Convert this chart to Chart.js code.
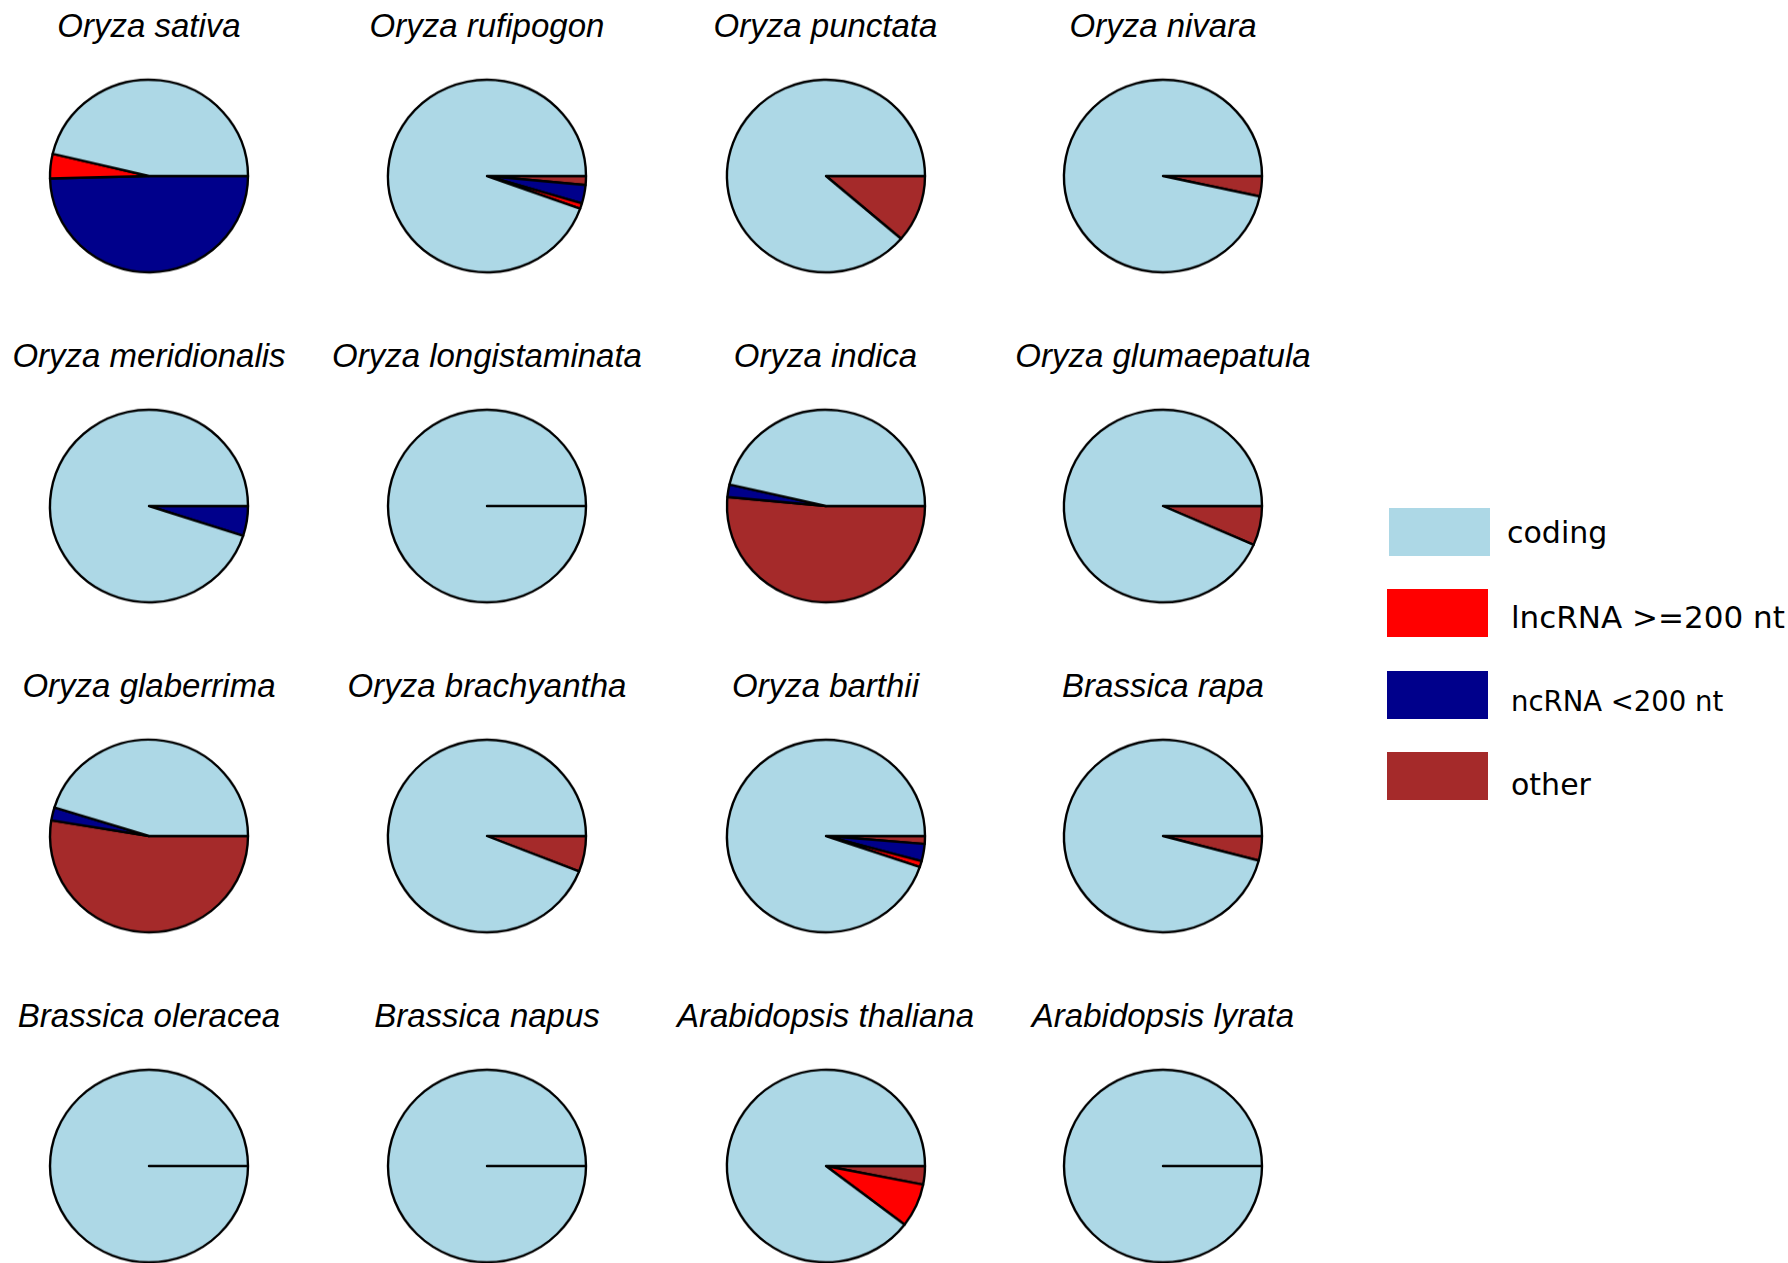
<!DOCTYPE html>
<html lang="en">
<head>
<meta charset="UTF-8">
<title>Transcript classes per species</title>
<script src="https://cdn.jsdelivr.net/npm/chart.js@4.4.0/dist/chart.umd.min.js"></script>
<style>
  html, body { margin: 0; padding: 0; background: #fff; overflow: hidden; }
  body { width: 1788px; height: 1263px; position: relative; }
  .title {
    position: absolute; width: 310px; height: 42px; overflow: hidden;
    white-space: nowrap; text-align: center; color: #000;
    font-family: "Liberation Sans", Arial, sans-serif; font-style: italic;
    font-size: 33px; line-height: 33px;
  }
  .pie { position: absolute; }
  .swatch { position: absolute; width: 101px; height: 48px; }
  .label {
    position: absolute; white-space: nowrap; color: #000;
    font-family: "DejaVu Sans", sans-serif; line-height: 30px;
  }
</style>
</head>
<body>
<script>
// species shown, left to right, top to bottom
const species = [
  'Oryza sativa', 'Oryza rufipogon', 'Oryza punctata', 'Oryza nivara',
  'Oryza meridionalis', 'Oryza longistaminata', 'Oryza indica', 'Oryza glumaepatula',
  'Oryza glaberrima', 'Oryza brachyantha', 'Oryza barthii', 'Brassica rapa',
  'Brassica oleracea', 'Brassica napus', 'Arabidopsis thaliana', 'Arabidopsis lyrata'
];

// share of transcripts (%) in each class
const coding = [46.3, 94.5, 88.7, 96.6, 95.0, 100, 46.4, 93.4, 45.2, 94.0, 94.8, 95.9, 100, 100, 89.6, 100];
const lncRNA = [4.1, 0.9, 0, 0, 0, 0, 0, 0, 0, 0, 1.0, 0, 0, 0, 7.3, 0];
const ncRNA  = [49.6, 3.1, 0, 0, 5.0, 0, 2.1, 0, 2.2, 0, 2.9, 0, 0, 0, 0, 0];
const other  = [0, 1.5, 11.3, 3.4, 0, 0, 51.5, 6.6, 52.6, 6.0, 1.3, 4.1, 0, 0, 3.1, 0];

const categories = ['coding', 'lncRNA >=200 nt', 'ncRNA <200 nt', 'other'];
const colors = ['#ADD8E6', '#FF0000', '#00008B', '#A52A2A'];
const labelSizes = [30, 31, 27.5, 30];

// grid of pie centres
const colX = [149, 487, 825.5, 1163];
const rowY = [176, 506, 836, 1166];
const R = 99;
const SIZE = 220;
const SQUASH = 0.976;   // pies are drawn a touch flatter than round

species.forEach((name, i) => {
  const cx = colX[i % 4], cy = rowY[Math.floor(i / 4)];

  const t = document.createElement('div');
  t.className = 'title';
  t.textContent = name;
  t.style.left = (cx - 155) + 'px';
  t.style.top = (cy - 167) + 'px';
  document.body.appendChild(t);

  const cv = document.createElement('canvas');
  cv.className = 'pie';
  cv.width = SIZE; cv.height = SIZE;
  document.body.appendChild(cv);

  // slices run counter-clockwise from 3 o'clock: reversed order, drawn clockwise
  const vals = [coding[i], lncRNA[i], ncRNA[i], other[i]].reverse();
  new Chart(cv.getContext('2d'), {
    type: 'pie',
    data: {
      labels: categories.slice().reverse(),
      datasets: [{
        data: vals,
        backgroundColor: colors.slice().reverse(),
        borderColor: '#000',
        borderWidth: 2.4,
        borderJoinStyle: 'round'
      }]
    },
    options: {
      responsive: false,
      animation: false,
      rotation: 90,
      radius: R,
      layout: { padding: 0 },
      plugins: { legend: { display: false }, tooltip: { enabled: false } },
      events: []
    }
  });

  const h = SIZE * SQUASH;
  cv.style.width = SIZE + 'px';
  cv.style.height = h + 'px';
  cv.style.left = (cx - SIZE / 2) + 'px';
  cv.style.top = (cy - h / 2) + 'px';
});

// legend
categories.forEach((c, i) => {
  const sw = document.createElement('div');
  sw.className = 'swatch';
  sw.style.background = colors[i];
  sw.style.left = (i === 0 ? 1389 : 1387) + 'px';
  sw.style.top = (508 + i * 81.3) + 'px';
  document.body.appendChild(sw);

  const lb = document.createElement('div');
  lb.className = 'label';
  lb.textContent = c;
  lb.style.fontSize = labelSizes[i] + 'px';
  lb.style.left = (i === 0 ? 1507 : 1511) + 'px';
  lb.style.top = (518 + i * 84) + 'px';
  document.body.appendChild(lb);
});
</script>
</body>
</html>
